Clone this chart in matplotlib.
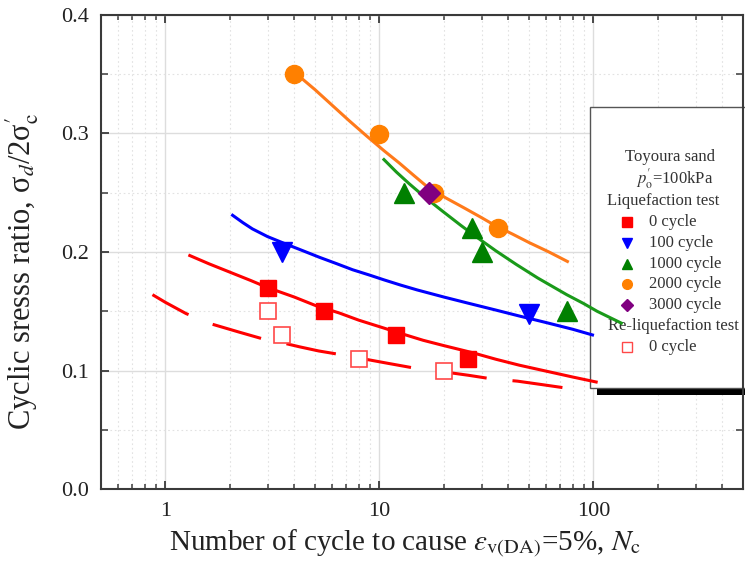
import matplotlib.pyplot as plt
from matplotlib.lines import Line2D
from matplotlib.patches import Rectangle
from matplotlib.ticker import LogLocator, MultipleLocator, FixedLocator, NullFormatter, FormatStrFormatter
from matplotlib.transforms import Affine2D

plt.rcParams["font.family"] = ["Liberation Serif", "DejaVu Serif"]
plt.rcParams["mathtext.fontset"] = "stix"

# ---------------------------------------------------------------------
# Data
# ---------------------------------------------------------------------

# liquefaction test, test points
liq0_n = [3, 5.5, 12, 26]
liq0_r = [0.17, 0.15, 0.13, 0.11]
liq100_n = [3.5, 50]
liq100_r = [0.20, 0.148]
liq1000_n = [13, 27, 30, 75]
liq1000_r = [0.25, 0.22, 0.20, 0.15]
liq2000_n = [4, 10, 18, 36]
liq2000_r = [0.35, 0.30, 0.25, 0.22]
liq3000_n = [17]
liq3000_r = [0.25]

# re-liquefaction test
reliq0_n = [3, 3.5, 8, 20]
reliq0_r = [0.15, 0.13, 0.11, 0.10]

# fitted curves
fit0_n = [1.3, 1.6, 2, 2.5, 3, 4, 5, 6.5, 8, 10, 13, 16, 20, 27, 35, 45, 60, 80, 103]
fit0_r = [0.197, 0.190, 0.183, 0.176, 0.170, 0.162, 0.155, 0.1485, 0.1425, 0.137, 0.1305,
          0.1255, 0.121, 0.1152, 0.1095, 0.1045, 0.0995, 0.0945, 0.0903]
fit100_n = [2.06, 2.3, 2.55, 3.0, 3.68, 4.4, 5.25, 6.3, 7.5, 9, 10.5, 12.5, 15, 20, 26, 35, 45,
            60, 80, 99]
fit100_r = [0.231, 0.2248, 0.2195, 0.213, 0.2065, 0.201, 0.1955, 0.1902, 0.185, 0.1805, 0.1765,
            0.1722, 0.168, 0.162, 0.1568, 0.151, 0.146, 0.1405, 0.1348, 0.130]
fit1000_n = [10.5, 12, 13.8, 16.5, 19.7, 24, 28.5, 35, 43.6, 55, 75, 90, 104, 120, 135]
fit1000_r = [0.278, 0.2675, 0.2575, 0.2455, 0.2345, 0.2225, 0.2125, 0.201, 0.1895, 0.178,
             0.164, 0.1565, 0.150, 0.1445, 0.140]
fit2000_n = [4.3, 5, 6, 7.2, 8.7, 10.5, 12.4, 14.5, 17, 20.5, 25, 30, 35, 42, 50, 62, 75.6]
fit2000_r = [0.347, 0.337, 0.324, 0.311, 0.298, 0.2855, 0.275, 0.2645, 0.254, 0.2455, 0.237,
             0.229, 0.222, 0.215, 0.208, 0.2, 0.192]
fitre_n = [0.87, 1.0, 1.25, 1.66, 2.2, 2.81, 3.5, 4.23, 5.2, 6.29, 8.33, 11, 14.6, 19.7,
           26, 33.3, 44.2, 58, 75.6]
fitre_r = [0.164, 0.1575, 0.148, 0.139, 0.1325, 0.127, 0.1235, 0.120, 0.1165, 0.114, 0.110,
           0.106, 0.102, 0.099, 0.096, 0.093, 0.091, 0.088, 0.085]

X_TICKS = [1, 10, 100]
X_TICK_LABELS = ["1", "10", "100"]

RED = "#ff0000"
BLUE = "#0000ff"
GREEN = "#008000"
ORANGE = "#ff8000"
PURPLE = "#800080"
LRED = "#ff4848"

# ---------------------------------------------------------------------
# Plot
# ---------------------------------------------------------------------

W, H = 745, 569
fig = plt.figure(figsize=(W / 100, H / 100), dpi=100)
ax = fig.add_axes([101 / W, 1 - 489 / H, 642 / W, 474 / H])

ax.set_xscale("log")
ax.set_xlim(0.5, 500)
ax.set_ylim(0.0, 0.4)

# curves
LW = 2.2
ax.plot(fit0_n, fit0_r, color=RED, lw=LW, zorder=3)
ax.plot(fit100_n, fit100_r, color=BLUE, lw=LW, zorder=3)
ax.plot(fit1000_n, fit1000_r, color="#1a9a1a", lw=LW, zorder=3)
ax.plot(fit2000_n, fit2000_r, color="#ff7a1a", lw=LW, zorder=3)
ax.plot(fitre_n, fitre_r, color=RED, lw=LW, linestyle=(3, (16.5, 8.5)), zorder=3)

# points
ax.plot(liq0_n, liq0_r, "s", color=RED, ms=12, zorder=4)
ax.plot(liq100_n, liq100_r, "v", color=BLUE, ms=15, zorder=4)
ax.plot(liq1000_n, liq1000_r, "^", color=GREEN, ms=15, zorder=4)
ax.plot(liq2000_n, liq2000_r, "o", color=ORANGE, ms=13, zorder=4)
ax.plot(liq3000_n, liq3000_r, "D", color=PURPLE, ms=11, zorder=5)
ax.plot(reliq0_n, reliq0_r, "s", mfc="white", mec=LRED, mew=1.2, ms=12, zorder=4)

# axes styling
for s in ax.spines.values():
    s.set_color("#3a3a3a")
    s.set_linewidth(1.5)

ax.xaxis.set_major_locator(FixedLocator(X_TICKS))
ax.set_xticklabels(X_TICK_LABELS)
ax.xaxis.set_minor_locator(LogLocator(base=10, subs=range(2, 10), numticks=20))
ax.xaxis.set_minor_formatter(NullFormatter())
ax.yaxis.set_major_locator(MultipleLocator(0.1))
ax.yaxis.set_minor_locator(MultipleLocator(0.05))
ax.yaxis.set_major_formatter(FormatStrFormatter("%.1f"))

ax.tick_params(which="both", direction="in", top=True, right=True,
               color="#3a3a3a", labelsize=16, labelcolor="#222222")
ax.tick_params(which="major", length=6, width=1.3, pad=9)
ax.tick_params(axis="x", which="minor", length=3.5, width=1.1)
ax.tick_params(axis="y", which="minor", length=5, width=1.1)

ax.grid(which="major", color="#dddddd", lw=1.0, ls="-")
ax.grid(which="minor", color="#e2e2e2", lw=0.8, ls=(0, (1.5, 2.5)))

ax.set_xlabel(r"Number of cycle to cause $\varepsilon_{\rm v(DA)}$=5%, $N_{\rm c}$",
              fontsize=21, color="#222222")
ax.xaxis.set_label_coords(0.474, -0.082)
ax.set_ylabel(r"Cyclic sresss ratio, σ$_d$/2σ$^{\prime}_{\rm c}$",
              fontsize=22, color="#222222")
ax.yaxis.set_label_coords(-0.093, 0.46)

# legend box drawn in figure pixel coordinates
px = Affine2D().scale(1 / W, -1 / H).translate(0, 1) + fig.transFigure

shadow = Rectangle((597, 114), 180, 281, transform=px, facecolor="black",
                   edgecolor="none", clip_on=False, zorder=1.7)
box = Rectangle((590, 107), 180, 281, transform=px, facecolor="white",
                edgecolor="#555555", lw=1.0, clip_on=False, zorder=1.8)
ax.add_artist(shadow)
ax.add_artist(box)

txt_kw = dict(transform=px, fontsize=12, color="#333333", va="center",
              clip_on=False, zorder=1.9)
ax.text(670, 157, "Toyoura sand", ha="center", **txt_kw)
ax.text(675, 179, r"$p^{\prime}_{\rm o}$=100kPa", ha="center", **txt_kw)
ax.text(663, 201, "Liquefaction test", ha="center", **txt_kw)
ax.text(673, 326, "Re-liquefaction test", ha="center", **txt_kw)

entries = [
    ("0 cycle", dict(marker="s", color=RED, ms=6.5)),
    ("100 cycle", dict(marker="v", color=BLUE, ms=7.5)),
    ("1000 cycle", dict(marker="^", color=GREEN, ms=7.5)),
    ("2000 cycle", dict(marker="o", color=ORANGE, ms=7)),
    ("3000 cycle", dict(marker="D", color=PURPLE, ms=6)),
]
rows = [222, 243, 264, 284, 305]
for (label, style), y in zip(entries, rows):
    ax.add_artist(Line2D([627], [y], transform=px, ls="none", clip_on=False,
                         zorder=1.9, **style))
    ax.text(649, y, label, ha="left", **txt_kw)

ax.add_artist(Line2D([627], [347], transform=px, ls="none", marker="s", ms=6.5,
                     mfc="white", mec=LRED, mew=1.0, clip_on=False, zorder=1.9))
ax.text(649, 347, "0 cycle", ha="left", **txt_kw)

fig.savefig("out.png", dpi=100)
